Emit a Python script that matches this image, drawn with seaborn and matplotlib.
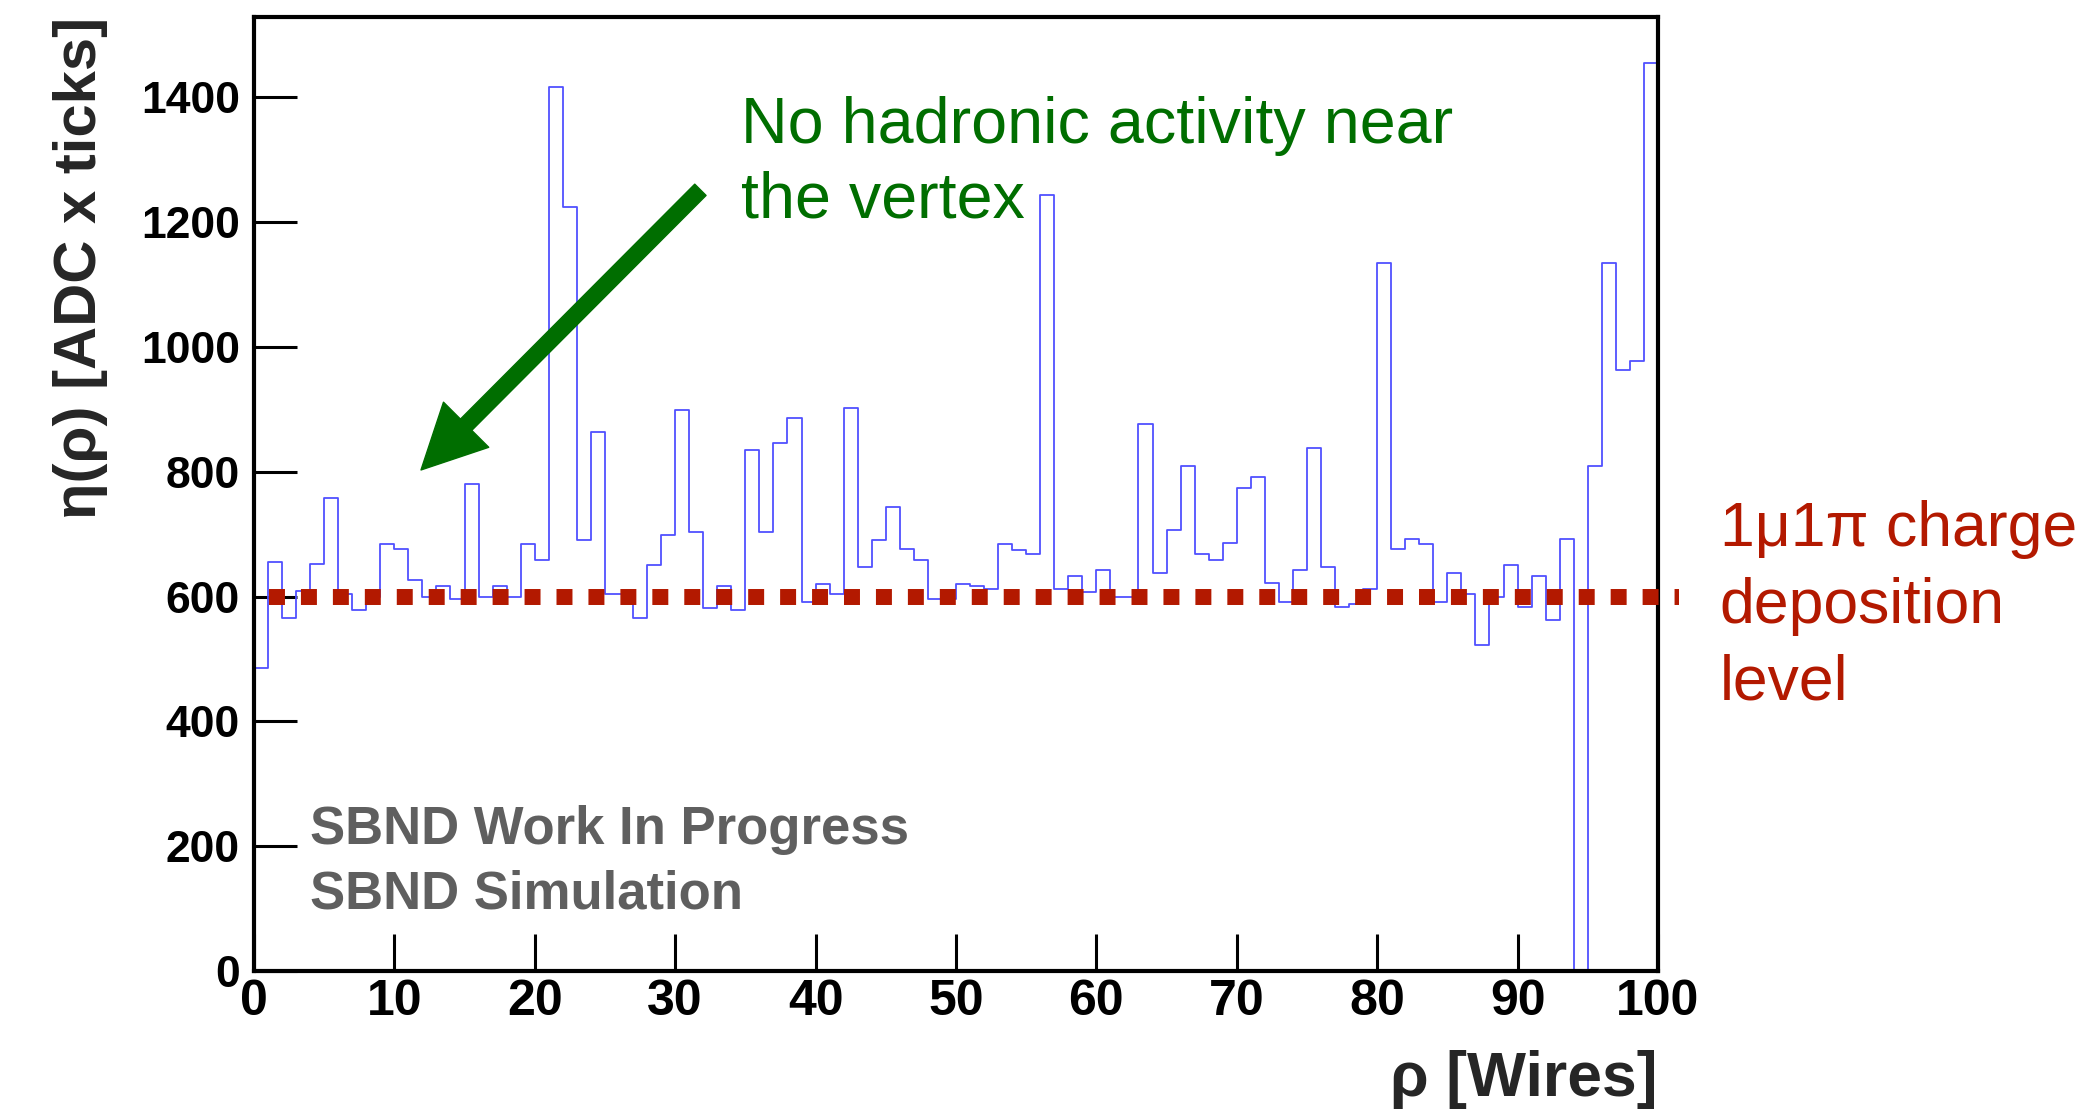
import numpy as np
import pandas as pd
import matplotlib
matplotlib.use("Agg")
import matplotlib.pyplot as plt
import seaborn as sns

# ---- data ----
wire_edges = list(range(0, 101))
eta_values = [485, 655, 566, 609, 652, 758, 604, 579, 599, 685,
              677, 626, 599, 617, 596, 780, 600, 617, 600, 685,
              659, 1416, 1224, 690, 864, 604, 604, 566, 651, 698,
              899, 703, 582, 617, 579, 835, 703, 847, 886, 592,
              621, 604, 902, 648, 690, 744, 677, 659, 597, 597,
              621, 617, 612, 684, 675, 669, 1244, 612, 633, 608,
              642, 599, 599, 877, 638, 707, 810, 669, 659, 686,
              774, 792, 622, 592, 642, 839, 648, 583, 589, 612,
              1134, 677, 693, 684, 592, 638, 604, 522, 599, 651,
              583, 633, 562, 693, 0, 810, 1134, 964, 977, 1456]
level_value = 600
level_range = [1.07, 101.5]
x_ticks = [0, 10, 20, 30, 40, 50, 60, 70, 80, 90, 100]
y_ticks = [0, 200, 400, 600, 800, 1000, 1200, 1400]

sns.set_style("ticks")
plt.rcParams['font.family'] = ['Liberation Sans', 'DejaVu Sans']

GREEN = '#006e00'
RED = '#b31900'
BLUE = '#5050ff'

fig = plt.figure(figsize=(20.95, 11.16), dpi=100)
fig.patch.set_facecolor('white')
ax = fig.add_axes([0.1212, 0.1299, 0.6702, 0.8549])
ax.set_facecolor('white')

edges = np.array(wire_edges, dtype=float)
centers = (edges[:-1] + edges[1:]) / 2
df = pd.DataFrame({"rho": centers, "eta": eta_values})
sns.histplot(data=df, x="rho", weights="eta", bins=len(centers),
             binrange=(edges[0], edges[-1]), element="step",
             fill=False, color=BLUE, linewidth=1.3, ax=ax)
ax.vlines(edges[0], 0, eta_values[0], color=BLUE, linewidth=1.3)

# charge deposition level (square dots)
ax.plot(level_range, [level_value, level_value], color=RED, linewidth=11.5,
        linestyle=(0, (1, 1)), dash_capstyle='butt', clip_on=False, zorder=3)

ax.set_xlim(0, 100)
ax.set_ylim(0, 1529)
ax.set_xticks(x_ticks)
ax.set_yticks(y_ticks)
ax.set_xticklabels([str(v) for v in x_ticks], fontsize=36, fontweight='bold')
ax.set_yticklabels([str(v) for v in y_ticks], fontsize=32, fontweight='bold')
ax.tick_params(axis='x', direction='in', length=27, width=2.2, pad=6, colors='black')
ax.tick_params(axis='y', direction='in', length=31, width=2.2, pad=10, colors='black')
ax.minorticks_off()
for s in ax.spines.values():
    s.set_visible(True)
    s.set_linewidth(3.0)
    s.set_color('black')

ax.set_ylabel('η(ρ) [ADC x ticks]', fontsize=43, fontweight='bold', loc='top')
ax.yaxis.set_label_coords(-0.104, 1.0)
ax.set_xlabel('ρ [Wires]', fontsize=45, fontweight='bold', loc='right')
ax.xaxis.set_label_coords(1.0, -0.083)

# annotations
ax.text(34.7, 1327, 'No hadronic activity near', color=GREEN, fontsize=46.5,
        va='baseline', ha='left')
ax.text(34.7, 1207, 'the vertex', color=GREEN, fontsize=46.5,
        va='baseline', ha='left')
ax.annotate('', xy=(11.9, 803), xytext=(31.8, 1252),
            arrowprops=dict(width=11.5, headwidth=46, headlength=46,
                            shrink=0.0, color=GREEN))

for txt, yv in zip(['1μ1π charge', 'deposition', 'level'], [681, 558, 435]):
    ax.text(104.4, yv, txt, color=RED, fontsize=45, va='baseline', ha='left',
            clip_on=False)

ax.text(4.0, 203, 'SBND Work In Progress', color='#5f5f5f', fontsize=38,
        fontweight='bold', va='baseline', ha='left')
ax.text(4.0, 101, 'SBND Simulation', color='#5f5f5f', fontsize=38,
        fontweight='bold', va='baseline', ha='left')

fig.savefig('out.png', dpi=100, facecolor='white')
